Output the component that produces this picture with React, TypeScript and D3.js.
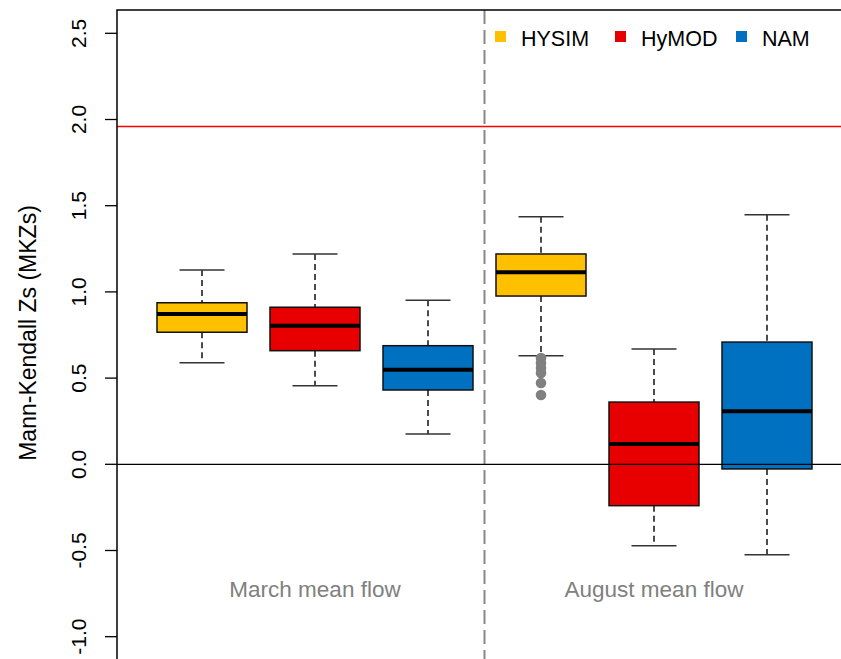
import React, { useEffect, useRef } from 'react';
import * as d3 from 'd3';

// groups / models
const groups = ['March mean flow', 'August mean flow'];
const models = ['HYSIM', 'HyMOD', 'NAM'];
const modelColors = ['#FFC000', '#E80000', '#0070C0'];

// box stats: [lowerWhisker, q1, median, q3, upperWhisker]
const marchStats = [
  [0.589, 0.766, 0.872, 0.937, 1.127],
  [0.456, 0.659, 0.804, 0.911, 1.220],
  [0.176, 0.431, 0.549, 0.688, 0.951],
];
const augustStats = [
  [0.630, 0.976, 1.114, 1.220, 1.436],
  [-0.472, -0.240, 0.118, 0.361, 0.669],
  [-0.524, -0.027, 0.307, 0.709, 1.448],
];
// outliers (only HYSIM August has them)
const augustHysimOutliers = [0.617, 0.588, 0.559, 0.530, 0.472, 0.402];

const yTicks = [-1.0, -0.5, 0.0, 0.5, 1.0, 1.5, 2.0, 2.5];
const criticalZ = 1.96;

export default function App() {
  const svgRef = useRef<SVGSVGElement>(null);

  useEffect(() => {
    if (!svgRef.current) return;
    const svg = d3.select(svgRef.current);
    svg.selectAll('*').remove();

    const width = 841;
    const height = 659;
    const plotLeft = 117;
    const plotTop = 10;

    const x = d3.scaleLinear().domain([1, 6]).range([202, 767]);
    const y = d3.scaleLinear().domain([0, 2.5]).range([464.3, 33.3]);
    const halfBox = 45;
    const halfCap = 22.5;
    const font = 'Liberation Sans, Arial, Helvetica, sans-serif';

    const boxes = [
      ...marchStats.map((s, i) => ({ pos: i + 1, s, color: modelColors[i], out: [] as number[] })),
      ...augustStats.map((s, i) => ({
        pos: i + 4,
        s,
        color: modelColors[i],
        out: i === 0 ? augustHysimOutliers : [],
      })),
    ];

    // reference lines
    svg.append('line')
      .attr('x1', plotLeft).attr('x2', width)
      .attr('y1', y(criticalZ)).attr('y2', y(criticalZ))
      .attr('stroke', '#FF0000').attr('stroke-width', 1.5);

    svg.append('line')
      .attr('x1', x(3.5)).attr('x2', x(3.5))
      .attr('y1', plotTop).attr('y2', height)
      .attr('stroke', '#888888').attr('stroke-width', 2)
      .attr('stroke-dasharray', '14,6');

    const g = svg.append('g');

    boxes.forEach(b => {
      const [lo, q1, med, q3, hi] = b.s;
      const cx = x(b.pos);
      // whiskers
      g.append('line')
        .attr('x1', cx).attr('x2', cx).attr('y1', y(hi)).attr('y2', y(q3))
        .attr('stroke', '#111').attr('stroke-width', 1.5).attr('stroke-dasharray', '6,4');
      g.append('line')
        .attr('x1', cx).attr('x2', cx).attr('y1', y(q1)).attr('y2', y(lo))
        .attr('stroke', '#111').attr('stroke-width', 1.5).attr('stroke-dasharray', '6,4');
      // caps
      [hi, lo].forEach(v => {
        g.append('line')
          .attr('x1', cx - halfCap).attr('x2', cx + halfCap)
          .attr('y1', y(v)).attr('y2', y(v))
          .attr('stroke', '#333').attr('stroke-width', 1.5);
      });
      // box
      g.append('rect')
        .attr('x', cx - halfBox).attr('width', halfBox * 2)
        .attr('y', y(q3)).attr('height', y(q1) - y(q3))
        .attr('fill', b.color).attr('stroke', '#111').attr('stroke-width', 1.5);
      // median
      g.append('line')
        .attr('x1', cx - halfBox).attr('x2', cx + halfBox)
        .attr('y1', y(med)).attr('y2', y(med))
        .attr('stroke', '#000').attr('stroke-width', 4);
      // outliers
      g.selectAll(null)
        .data(b.out)
        .enter().append('circle')
        .attr('cx', cx).attr('cy', d => y(d)).attr('r', 5.3)
        .attr('fill', '#808080');
    });

    // zero line drawn over boxes
    svg.append('line')
      .attr('x1', plotLeft).attr('x2', width)
      .attr('y1', y(0)).attr('y2', y(0))
      .attr('stroke', '#000').attr('stroke-width', 1.3);

    // frame: left axis + top border
    svg.append('path')
      .attr('d', `M${plotLeft},${height}V${plotTop}H${width}`)
      .attr('fill', 'none').attr('stroke', '#000').attr('stroke-width', 1.5);

    // y axis ticks
    const fmt = (v: number) => d3.format('.1f')(v).replace('−', '-');
    const ticks = svg.append('g');
    yTicks.forEach(t => {
      ticks.append('line')
        .attr('x1', plotLeft - 12).attr('x2', plotLeft)
        .attr('y1', y(t)).attr('y2', y(t))
        .attr('stroke', '#000').attr('stroke-width', 1.3);
      ticks.append('text')
        .attr('transform', `translate(86,${y(t)}) rotate(-90)`)
        .attr('text-anchor', 'middle')
        .attr('font-family', font).attr('font-size', 21)
        .attr('fill', '#000')
        .text(fmt(t));
    });

    svg.append('text')
      .attr('transform', `translate(36,333) rotate(-90)`)
      .attr('text-anchor', 'middle')
      .attr('font-family', font).attr('font-size', 23)
      .attr('fill', '#000')
      .text('Mann-Kendall Zs (MKZs)');

    // group labels
    groups.forEach((name, i) => {
      svg.append('text')
        .attr('x', x(2 + i * 3)).attr('y', 597)
        .attr('text-anchor', 'middle')
        .attr('font-family', font).attr('font-size', 22.5)
        .attr('fill', '#808080')
        .text(name);
    });

    // legend
    const legendX = [495, 615, 736];
    models.forEach((m, i) => {
      svg.append('rect')
        .attr('x', legendX[i]).attr('y', 31).attr('width', 11).attr('height', 11)
        .attr('fill', modelColors[i]);
      svg.append('text')
        .attr('x', legendX[i] + 26).attr('y', 46)
        .attr('font-family', font).attr('font-size', 21.5)
        .attr('fill', '#000')
        .text(m);
    });
  }, []);

  return (
    <svg
      ref={svgRef}
      width={841}
      height={659}
      viewBox="0 0 841 659"
      style={{ position: 'absolute', left: 0, top: 0, background: '#fff' }}
    />
  );
}
